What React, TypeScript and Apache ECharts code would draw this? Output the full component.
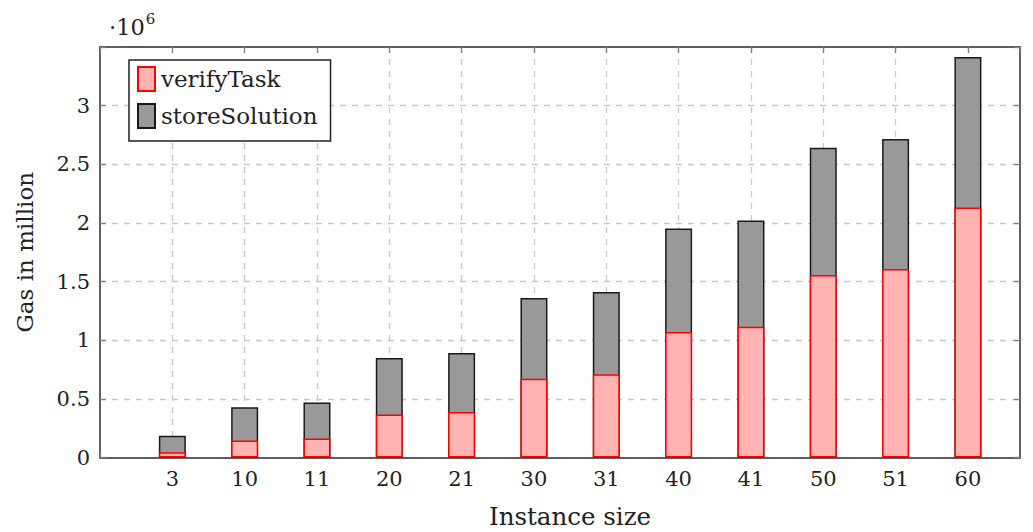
import React, { useEffect, useRef } from "react";
import * as echarts from "echarts";

const categories = ["3", "10", "11", "20", "21", "30", "31", "40", "41", "50", "51", "60"];
const verifyTask = [0.044, 0.144, 0.161, 0.366, 0.389, 0.671, 0.709, 1.069, 1.114, 1.555, 1.608, 2.131];
const storeSolution = [0.142, 0.285, 0.307, 0.482, 0.501, 0.688, 0.703, 0.883, 0.906, 1.087, 1.108, 1.283];
const yTicks = ["0", "0.5", "1", "1.5", "2", "2.5", "3"];

const FONT = "'DejaVu Serif', serif";

export default function App() {
  const ref = useRef<HTMLDivElement>(null);
  useEffect(() => {
    document.body.style.margin = "0";
    const chart = echarts.init(ref.current!, null, { renderer: "svg" });
    const xLabel = (v: number) => {
      const i = Math.round(v);
      if (Math.abs(v - i) > 1e-6 || i < 0 || i >= categories.length) return "";
      return categories[i];
    };
    const yLabel = (v: number) => {
      const i = Math.round(v / 0.5);
      if (i < 0 || i >= yTicks.length) return "";
      return yTicks[i];
    };
    // totals = verifyTask + storeSolution (stack top), drawn behind the verifyTask part
    const totals = verifyTask.map((v, i) => v + storeSolution[i]);
    const tickStyle = { show: true, inside: true, length: 6, lineStyle: { color: "#808080", width: 1.3 } };
    const splitStyle = {
      show: true, showMinLine: false, showMaxLine: false,
      lineStyle: { color: "#c8c8c8", type: [6, 6] as any, width: 1.3 },
    };
    const boxLine = { show: true, onZero: false, lineStyle: { color: "#2a2a2a", width: 1.5 } };
    chart.setOption({
      animation: false,
      grid: {
        left: 100, top: 47, right: 13, bottom: 74.5, show: false,
        containLabel: false, outerBoundsMode: "none",
      },
      legend: {
        orient: "vertical",
        left: 129, top: 60,
        padding: [6, 13, 12, 8],
        itemWidth: 17, itemHeight: 24, itemGap: 11,
        borderColor: "#222", borderWidth: 1.5, backgroundColor: "#fff",
        textStyle: { fontFamily: FONT, fontSize: 23, color: "#222", padding: [0, 0, 0, 1] },
        data: [{ name: "verifyTask", icon: "rect" }, { name: "storeSolution", icon: "rect" }],
      },
      xAxis: [
        {
          type: "value", min: -1, max: 11.72, interval: 1,
          name: "Instance size", nameLocation: "middle", nameGap: 46,
          nameTextStyle: { fontFamily: FONT, fontSize: 24.5, color: "#222", padding: [0, 0, 0, 20] },
          axisLine: boxLine,
          axisTick: tickStyle,
          axisLabel: { formatter: xLabel, fontFamily: FONT, fontSize: 21, color: "#222", margin: 11, showMaxLabel: false },
          splitLine: splitStyle,
        },
        {
          type: "value", position: "top", min: -1, max: 11.72, interval: 1,
          axisLine: boxLine, axisTick: tickStyle, axisLabel: { show: false }, splitLine: { show: false },
        },
      ],
      yAxis: [
        {
          type: "value", min: 0, max: 3.5, interval: 0.5,
          name: "Gas in million", nameLocation: "middle", nameGap: 64,
          nameTextStyle: { fontFamily: FONT, fontSize: 23, color: "#222" },
          axisLine: boxLine,
          axisTick: tickStyle,
          axisLabel: { formatter: yLabel, fontFamily: FONT, fontSize: 21, color: "#222", margin: 10 },
          splitLine: splitStyle,
        },
        {
          type: "value", position: "right", min: 0, max: 3.5, interval: 0.5,
          axisLine: boxLine, axisTick: tickStyle, axisLabel: { show: false }, splitLine: { show: false },
        },
      ],
      graphic: [
        {
          type: "text", left: 109, top: 11,
          style: {
            text: "{a|·10}{b|6}",
            rich: {
              a: { fontFamily: FONT, fontSize: 22.5, fill: "#222", verticalAlign: "bottom", lineHeight: 27 },
              b: { fontFamily: FONT, fontSize: 15, fill: "#222", verticalAlign: "top", lineHeight: 27, padding: [0, 0, 12, 1] },
            },
          },
        },
      ],
      series: [
        {
          name: "verifyTask", type: "bar", barWidth: 27, barGap: "-100%", z: 3,
          itemStyle: { color: "#ffb3b3", borderColor: "#ff0000", borderWidth: 1.5 },
          data: verifyTask.map((v, i) => [i, v]),
        },
        {
          name: "storeSolution", type: "bar", barWidth: 27, barGap: "-100%", z: 2,
          itemStyle: { color: "#999999", borderColor: "#1a1a1a", borderWidth: 1.5 },
          data: totals.map((v, i) => [i, v]),
        },
      ],
    });
    return () => chart.dispose();
  }, []);
  return <div ref={ref} style={{ width: 1033, height: 532 }} />;
}
